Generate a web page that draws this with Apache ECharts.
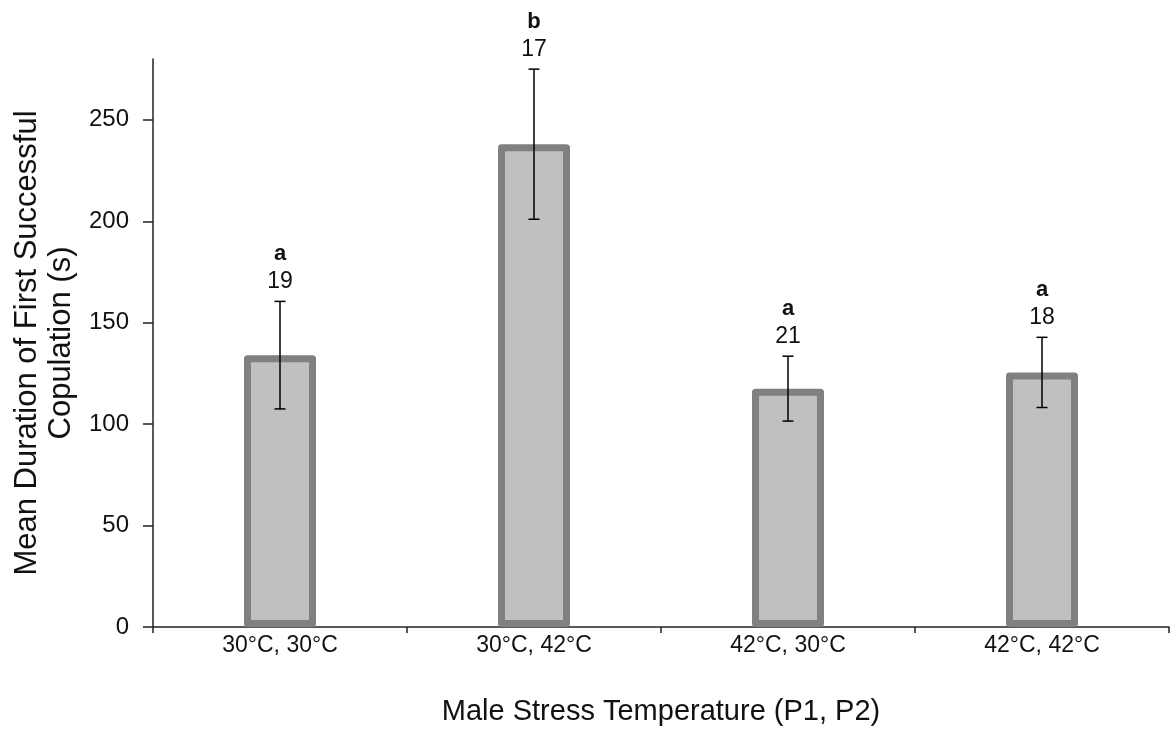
<!DOCTYPE html>
<html>
<head>
<meta charset="utf-8">
<script src="https://cdn.jsdelivr.net/npm/echarts@6/dist/echarts.min.js"></script>
<style>
html,body{margin:0;padding:0;background:#fff;}
#chart{width:1170px;height:731px;}
</style>
</head>
<body>
<div id="chart"></div>
<script>
// ---- data ----
var categories = ['30°C, 30°C', '30°C, 42°C', '42°C, 30°C', '42°C, 42°C'];
var means = [134, 238, 117.5, 125.5];
var stdErrors = [26.5, 37, 16, 17.3];
var sampleSizes = ['19', '17', '21', '18'];
var groupLetters = ['a', 'b', 'a', 'a'];
var yTicks = [0, 50, 100, 150, 200, 250];

var FONT = '"Liberation Sans", Arial, sans-serif';
var TEXT = '#111';

var errData = means.map(function (m, i) {
  return [i, m - stdErrors[i], m + stdErrors[i], sampleSizes[i], groupLetters[i]];
});

var chart = echarts.init(document.getElementById('chart'), null, {renderer: 'canvas'});
chart.setOption({
  backgroundColor: '#fff',
  animation: false,
  grid: {left: 153, right: 1, top: 59, bottom: 102, containLabel: false},
  xAxis: {
    type: 'category',
    data: categories,
    boundaryGap: true,
    name: 'Male Stress Temperature (P1, P2)',
    nameLocation: 'middle',
    nameGap: 70,
    nameTextStyle: {fontFamily: FONT, fontSize: 29, color: TEXT},
    axisLine: {lineStyle: {color: '#222', width: 1.5}},
    axisTick: {show: true, alignWithLabel: false, length: 6, lineStyle: {color: '#222', width: 1.5}},
    axisLabel: {fontFamily: FONT, fontSize: 23, color: TEXT, margin: 7},
    splitLine: {show: false}
  },
  yAxis: {
    type: 'value',
    min: 0,
    max: 280,
    interval: 50,
    name: 'Mean Duration of First Successful\nCopulation (s)',
    nameLocation: 'middle',
    nameRotate: 90,
    nameGap: 74,
    nameTextStyle: {fontFamily: FONT, fontSize: 31, color: TEXT, lineHeight: 34},
    axisLine: {show: true, lineStyle: {color: '#222', width: 1.5}},
    axisTick: {show: true, length: 10, customValues: yTicks, lineStyle: {color: '#222', width: 1.5}},
    axisLabel: {fontFamily: FONT, fontSize: 24, color: TEXT, margin: 24, customValues: yTicks},
    splitLine: {show: false}
  },
  series: [
    {
      type: 'bar',
      data: means,
      barWidth: 72,
      itemStyle: {color: '#c0c0c0', borderColor: '#808080', borderWidth: 7, borderJoin: 'round'},
      z: 2
    },
    {
      type: 'custom',
      data: errData,
      z: 5,
      renderItem: function (params, api) {
        var x = api.value(0);
        var lo = api.coord([x, api.value(1)]);
        var hi = api.coord([x, api.value(2)]);
        var cap = 5.5;
        var style = {stroke: '#000', lineWidth: 1.5};
        return {
          type: 'group',
          children: [
            {type: 'line', shape: {x1: hi[0], y1: hi[1], x2: lo[0], y2: lo[1]}, style: style},
            {type: 'line', shape: {x1: hi[0] - cap, y1: hi[1], x2: hi[0] + cap, y2: hi[1]}, style: style},
            {type: 'line', shape: {x1: lo[0] - cap, y1: lo[1], x2: lo[0] + cap, y2: lo[1]}, style: style},
            {type: 'text', x: hi[0], y: hi[1] - 19.5,
              style: {text: api.value(3), fontFamily: FONT, fontSize: 23, fill: TEXT, align: 'center', verticalAlign: 'middle'}},
            {type: 'text', x: hi[0], y: hi[1] - 47.5,
              style: {text: api.value(4), fontFamily: FONT, fontSize: 22, fontWeight: 'bold', fill: TEXT, align: 'center', verticalAlign: 'middle'}}
          ]
        };
      }
    }
  ]
});
</script>
</body>
</html>
